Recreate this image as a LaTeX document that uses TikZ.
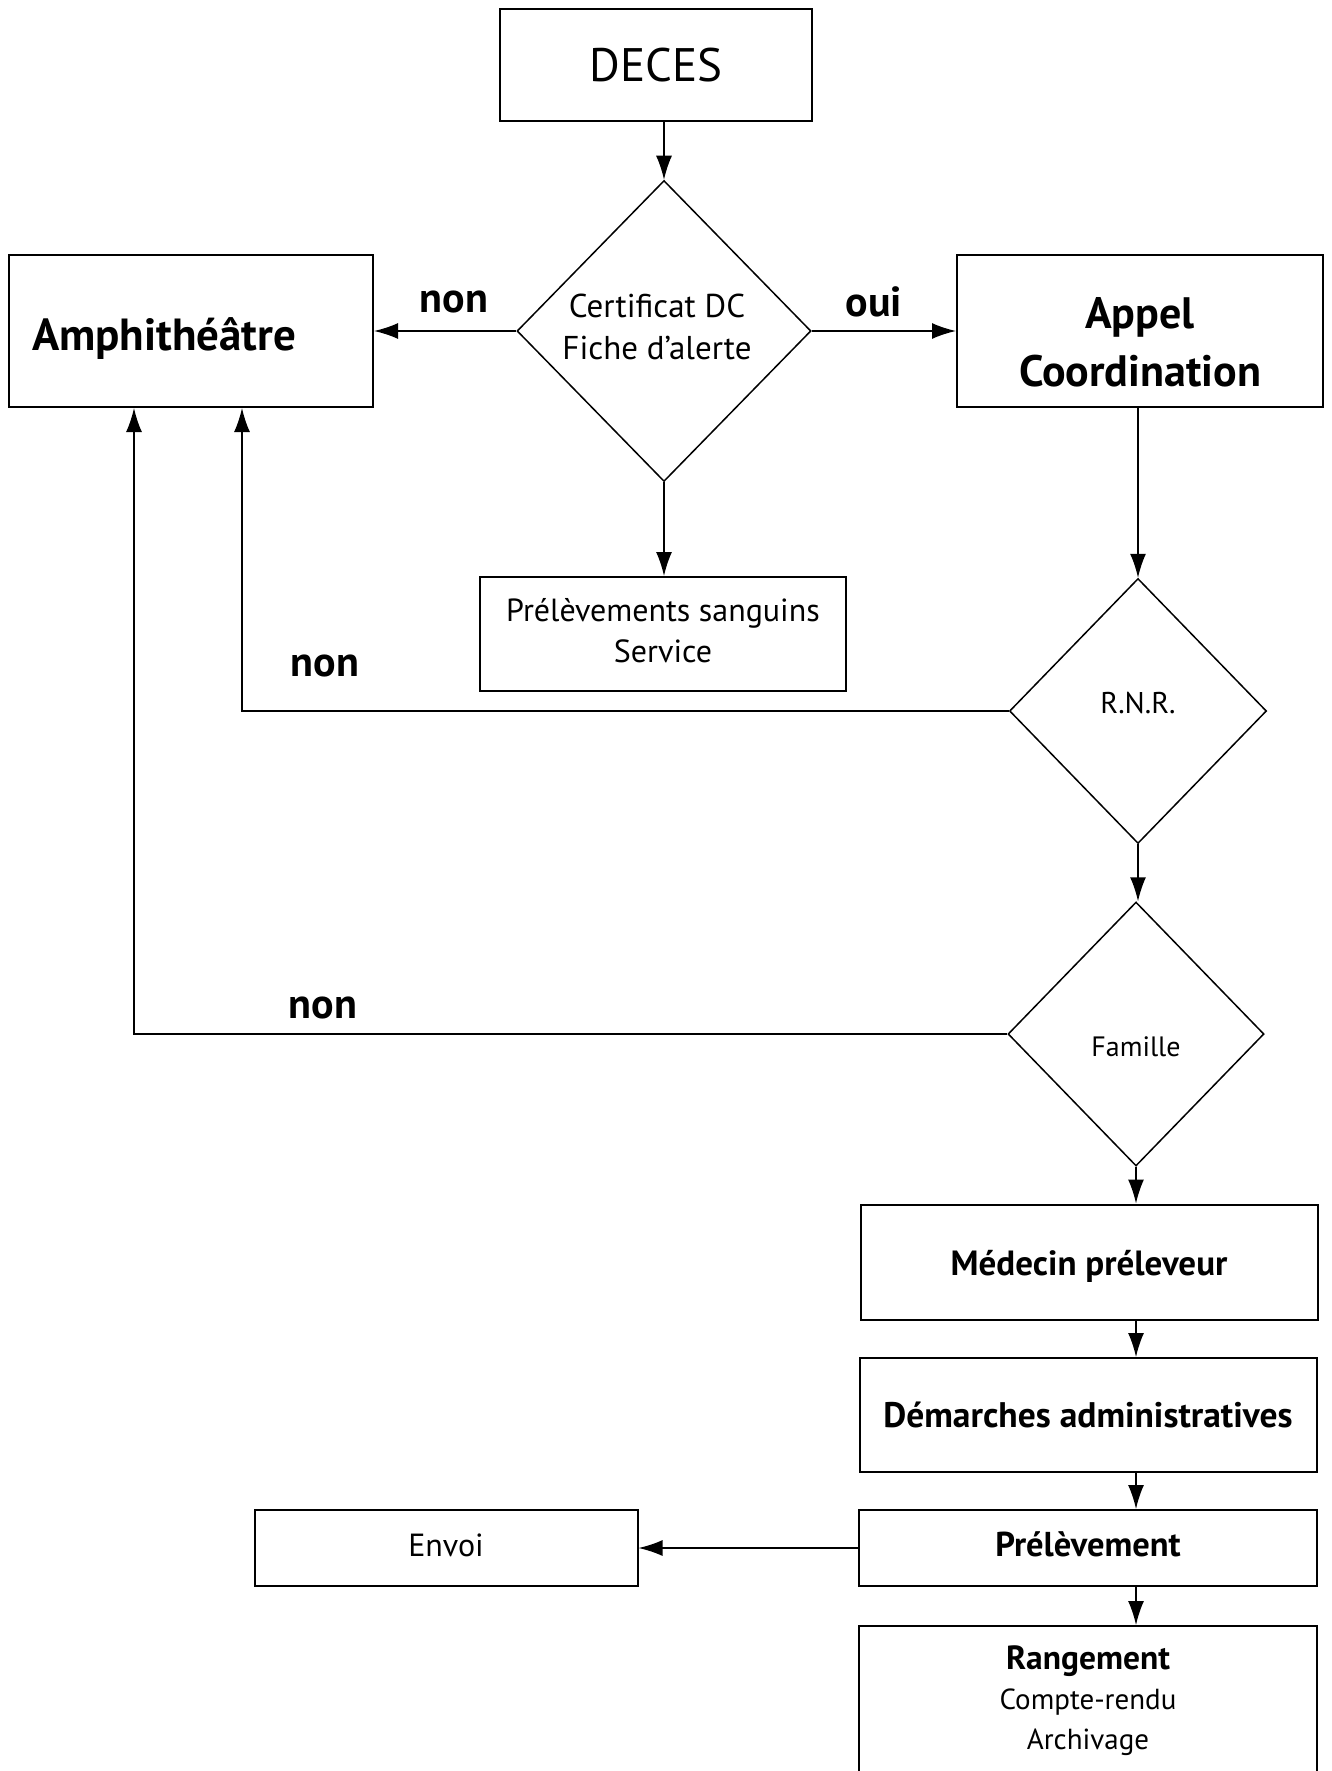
\documentclass[tikz,border=0pt]{standalone}
\usepackage{fontspec}
\setmainfont{PT Sans}
\usetikzlibrary{shapes.geometric,arrows.meta}

\begin{document}
\begin{tikzpicture}[x=1pt,y=-1pt,
    box/.style={draw,line width=2pt,align=center,inner sep=0pt},
    choix/.style={draw,diamond,line width=1.5pt,align=center,inner sep=0pt},
    fleche/.style={line width=1.5pt,-{Latex[length=24pt,width=16pt]}},
    etiq/.style={font=\fontsize{42}{50}\selectfont\bfseries}]
    \useasboundingbox (0,0) rectangle (1332,1771);
    \clip (0,0) rectangle (1332,1771);
    \node (deces) [box,minimum width=312pt,minimum height=112pt,font=\fontsize{47}{56}\selectfont] at (656,65) {DECES};
    \node (cert) [choix,minimum width=294pt,minimum height=301pt,font=\fontsize{33}{42}\selectfont] at (664,331) {Certificat DC\hspace*{14pt}\\Fiche d'alerte\hspace*{14pt}\rule[-9pt]{0pt}{9pt}};
    \node (amphi) [box,minimum height=152pt,text width=318pt,inner xsep=23pt,align=left,font=\fontsize{45}{50}\selectfont\bfseries] at (191,331) {\rule{0pt}{48pt}Amphithéâtre};
    \node (appel) [box,minimum width=366pt,minimum height=152pt,font=\fontsize{44}{58}\selectfont\bfseries] at (1140,331) {\rule{0pt}{54pt}Appel\\Coordination};
    \node (sang) [box,minimum width=366pt,minimum height=114pt,font=\fontsize{32}{41}\selectfont] at (663,634) {Prélèvements sanguins\\Service\rule[-7pt]{0pt}{7pt}};
    \node (rnr) [choix,minimum width=257pt,minimum height=265pt,font=\fontsize{30}{30}\selectfont] at (1138,711) {R.N.R.\rule[-16pt]{0pt}{16pt}};
    \node (famille) [choix,minimum width=256pt,minimum height=264pt,font=\fontsize{28}{30}\selectfont] at (1136,1034) {\rule{0pt}{45pt}Famille};
    \node (medecin) [box,minimum width=457pt,minimum height=115pt,font=\fontsize{35}{40}\selectfont\bfseries] at (1089,1262) {\rule{0pt}{33pt}Médecin préleveur};
    \node (demarches) [box,minimum width=457pt,minimum height=114pt,font=\fontsize{35.5}{40}\selectfont\bfseries] at (1088,1415) {Démarches administratives};
    \node (prelev) [box,minimum width=458pt,minimum height=76pt,font=\fontsize{34.5}{40}\selectfont\bfseries] at (1088,1548) {Prélèvement\rule[-7pt]{0pt}{7pt}};
    \node (envoi) [box,minimum width=383pt,minimum height=76pt,font=\fontsize{32}{40}\selectfont] at (446,1548) {Envoi\rule[-6pt]{0pt}{6pt}};
    \node (rang) [box,anchor=north,minimum width=458pt,inner ysep=20pt,font=\fontsize{29}{40}\selectfont] at (1088,1625) {{\fontsize{33.5}{40}\selectfont\bfseries Rangement}\\Compte-rendu\\Archivage\\[40pt]\mbox{}};
    \node (non1) [etiq] at (454,302) {non};
    \node (oui) [etiq] at (874,302) {oui};
    \node (non2) [etiq] at (325,666) {non};
    \node (non3) [etiq] at (323,1008) {non};
    \coordinate (pied1) at (242,0);
    \coordinate (pied2) at (134,0);
    \draw[fleche] (deces.south -| cert.north) -- (cert.north);
    \draw[fleche] (cert.west) -- (amphi.east);
    \draw[fleche] (cert.east) -- (appel.west);
    \draw[fleche] (cert.south) -- (sang.north -| cert.south);
    \draw[fleche] (appel.south -| rnr.north) -- (rnr.north);
    \draw[fleche] (rnr.west) -| (pied1 |- amphi.south);
    \draw[fleche] (rnr.south) -- (rnr.south |- famille.north);
    \draw[fleche] (famille.west) -| (pied2 |- amphi.south);
    \draw[fleche] (famille.south) -- (famille.south |- medecin.north);
    \draw[fleche] (medecin.south -| famille.south) -- (demarches.north -| famille.south);
    \draw[fleche] (demarches.south -| famille.south) -- (prelev.north -| famille.south);
    \draw[fleche] (prelev.south -| famille.south) -- (rang.north -| famille.south);
    \draw[fleche] (prelev.west) -- (envoi.east);
\end{tikzpicture}
\end{document}
